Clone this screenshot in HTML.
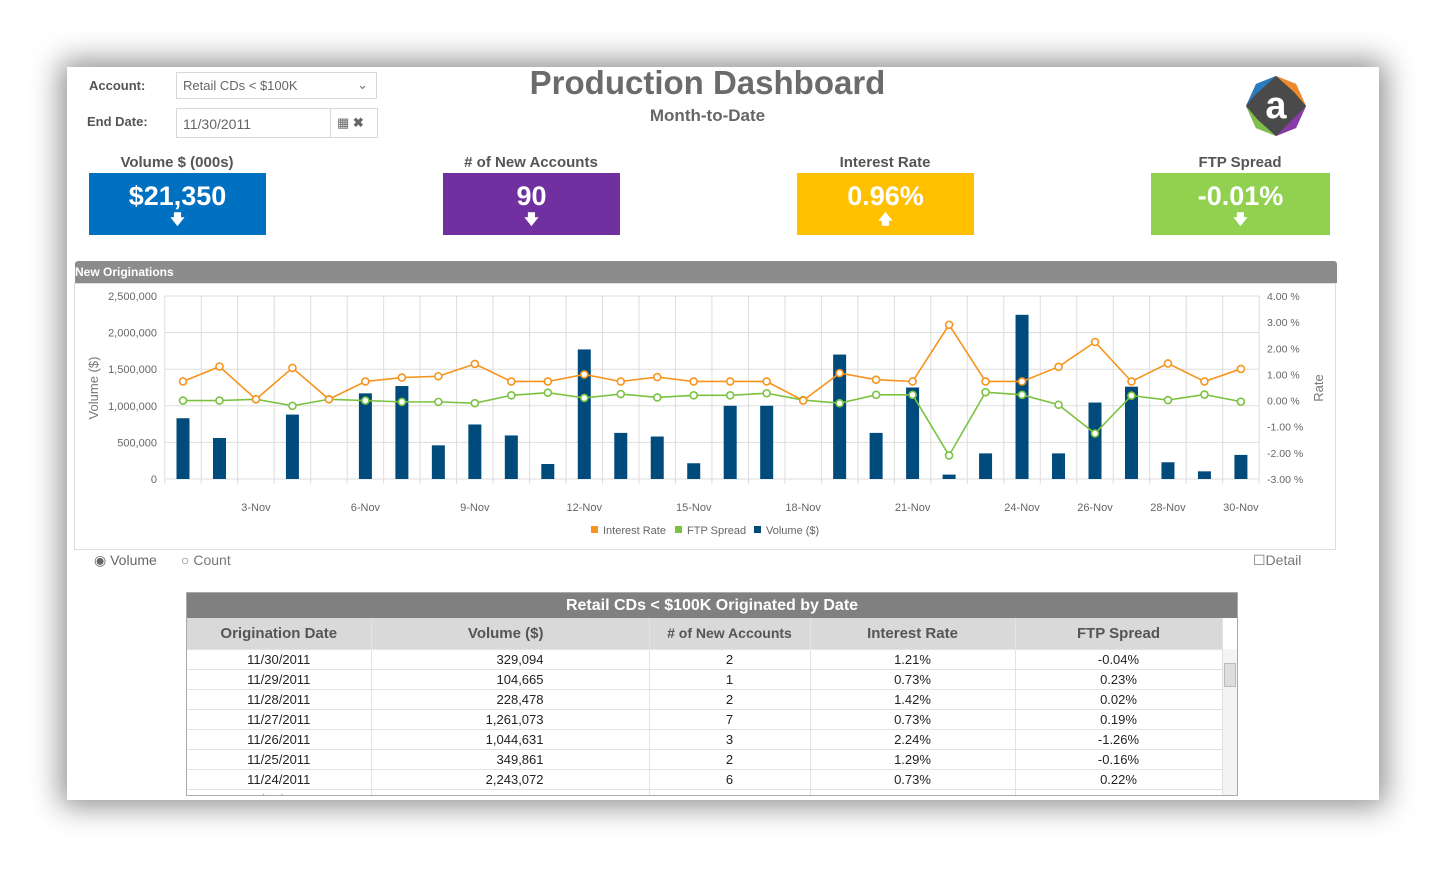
<!DOCTYPE html>
<html><head><meta charset="utf-8"><style>
body{margin:0;width:1454px;height:876px;background:#fff;position:relative;overflow:hidden;font-family:"Liberation Sans",sans-serif}
.abs{position:absolute}
#panel{left:67px;top:67px;width:1312px;height:733px;background:#fff;box-shadow:0 0 28px 6px rgba(0,0,0,0.45)}
.lbl{font-size:13px;font-weight:bold;color:#555}
.inp{border:1px solid #d8d8d8;background:#fff;font-size:13px;color:#666;box-sizing:border-box}
.kt{font-size:15px;font-weight:bold;color:#555;text-align:center;width:220px}
.kb{color:#fff;text-align:center;font-size:27px;font-weight:bold;box-sizing:border-box;padding-top:8px}
.kb span{display:block;font-size:14px;line-height:14px;margin-top:0}
table{border-collapse:collapse;font-size:13px;color:#222;table-layout:fixed}
td{border-bottom:1px solid #e3e3e3;border-right:1px solid #e3e3e3;height:19px;padding:0;overflow:hidden;white-space:nowrap}
</style></head><body>
<div id="panel" class="abs"></div>
<div class="abs lbl" style="left:89px;top:78px">Account:</div>
<div class="abs inp" style="left:176px;top:72px;width:201px;height:27px;padding:5px 6px">Retail CDs &lt; $100K<span style="position:absolute;right:8px;top:4px;color:#777">&#8964;</span></div>
<div class="abs lbl" style="left:87px;top:114px">End Date:</div>
<div class="abs inp" style="left:176px;top:108px;width:155px;height:30px;padding:7px 6px;font-size:14px">11/30/2011</div>
<div class="abs inp" style="left:330px;top:108px;width:48px;height:30px;padding:6px 6px;color:#666"><span>&#9638;</span> <b>&#10006;</b></div>
<div class="abs" style="left:470px;top:64px;width:475px;text-align:center;font-size:33px;font-weight:bold;color:#6b6b6b">Production Dashboard</div>
<div class="abs" style="left:470px;top:106px;width:475px;text-align:center;font-size:17px;font-weight:bold;color:#666">Month-to-Date</div>
<svg class="abs" style="left:1244px;top:74px" width="64" height="64">
<polygon points="32,2 52,10 62,32 52,54 32,62 12,54 2,32 12,10" fill="#4a4a4a"/>
<polygon points="32,2 12,10 2,32 10,22" fill="#2a7cc0"/><polygon points="32,2 52,10 62,32 50,18" fill="#ee8a2c"/>
<polygon points="2,32 12,54 32,62 14,46" fill="#7fc04a"/><polygon points="62,32 52,54 32,62 52,42" fill="#8a3aa8"/>
<text x="32" y="44" text-anchor="middle" font-size="38" font-weight="bold" fill="#fff" font-family="Liberation Sans">a</text></svg>
<div class="abs kt" style="left:67px;top:154px">Volume $ (000s)</div>
<div class="abs kb" style="left:89px;top:173px;width:177px;height:62px;background:#0070c0">$21,350<span>&#129095;</span></div>
<div class="abs kt" style="left:421px;top:154px"># of New Accounts</div>
<div class="abs kb" style="left:443px;top:173px;width:177px;height:62px;background:#7030a0">90<span>&#129095;</span></div>
<div class="abs kt" style="left:775px;top:154px">Interest Rate</div>
<div class="abs kb" style="left:797px;top:173px;width:177px;height:62px;background:#ffc000">0.96%<span>&#129093;</span></div>
<div class="abs kt" style="left:1130px;top:154px">FTP Spread</div>
<div class="abs kb" style="left:1151px;top:173px;width:179px;height:62px;background:#92d050">-0.01%<span>&#129095;</span></div>
<div class="abs" style="left:74px;top:283px;width:1262px;height:267px;border:1px solid #ddd;box-sizing:border-box"></div>
<div class="abs" style="left:75px;top:261px;width:1262px;height:22px;background:#8c8c8c;color:#fff;font-size:12px;font-weight:bold;line-height:22px;border-radius:3px 3px 0 0">New Originations</div>
<svg id="chart" class="abs" style="left:0;top:0" width="1454" height="560"></svg>
<div class="abs" style="left:94px;top:552px;font-size:14px;color:#666">&#9673; Volume</div>
<div class="abs" style="left:181px;top:552px;font-size:14px;color:#777">&#9675; Count</div>
<div class="abs" style="left:1253px;top:552px;font-size:14px;color:#777">&#9744;Detail</div>
<div class="abs" style="left:186px;top:592px;width:1052px;height:204px;border:1px solid #aaa;box-sizing:border-box;overflow:hidden">
<div style="height:25px;background:#808080;color:#fff;font-weight:bold;font-size:16px;text-align:center;line-height:26px">Retail CDs &lt; $100K Originated by Date</div>
<table style="width:1035px"><colgroup><col style="width:184px"><col style="width:278px"><col style="width:161px"><col style="width:205px"><col style="width:207px"></colgroup>
<tr style="background:#d9d9d9;color:#555;font-weight:bold;font-size:15px;height:31px">
<td style="text-align:center">Origination Date</td><td style="text-align:right;padding-right:105px">Volume ($)</td><td style="text-align:center;font-size:14px"># of New Accounts</td><td style="text-align:center">Interest Rate</td><td style="text-align:center">FTP Spread</td></tr>
<tbody id="tb"></tbody></table>
<div style="position:absolute;right:0;top:56px;width:14px;height:146px;background:#f4f4f4;border-left:1px solid #ddd"><div style="margin:14px 1px;height:22px;background:#ddd;border:1px solid #bbb"></div></div>
</div>
<script>
const days=[1,2,3,4,5,6,7,8,9,10,11,12,13,14,15,16,17,18,19,20,21,22,23,24,25,26,27,28,29,30];
const volume=[830000,560000,0,880000,0,1170000,1270000,460000,745000,595000,205000,1770000,630000,580000,215000,1000000,1000000,0,1700000,630000,1250000,60000,350000,2243072,349861,1044631,1261073,228478,104665,329094];
const interestRate=[0.73,1.3,0.05,1.25,0.05,0.73,0.88,0.93,1.4,0.73,0.73,1.0,0.73,0.9,0.73,0.73,0.73,0.0,1.05,0.8,0.73,2.9,0.73,0.73,1.29,2.24,0.73,1.42,0.73,1.21];
const ftpSpread=[0.0,0.0,0.05,-0.2,0.05,0.0,-0.05,-0.05,-0.1,0.2,0.3,0.1,0.25,0.12,0.2,0.2,0.28,0.02,-0.1,0.22,0.22,-2.1,0.32,0.22,-0.16,-1.26,0.19,0.02,0.23,-0.04];
const leftTicks=[0,500000,1000000,1500000,2000000,2500000];
const rightTicks=[-3,-2,-1,0,1,2,3,4];
const xLabelDays=[3,6,9,12,15,18,21,24,26,28,30];
const tableDates=["11/30/2011","11/29/2011","11/28/2011","11/27/2011","11/26/2011","11/25/2011","11/24/2011","11/23/2011"];
const tableVol=["329,094","104,665","228,478","1,261,073","1,044,631","349,861","2,243,072",""];
const tableAcc=["2","1","2","7","3","2","6",""];
const tableRate=["1.21%","0.73%","1.42%","0.73%","2.24%","1.29%","0.73%",""];
const tableFtp=["-0.04%","0.23%","0.02%","0.19%","-1.26%","-0.16%","0.22%",""];
const ns="http://www.w3.org/2000/svg",svg=document.getElementById('chart');
const X=d=>183+(d-1)*36.48, YL=v=>479-v/2500000*183, YR=v=>479-(v+3)/7*183;
function el(t,a,p){const e=document.createElementNS(ns,t);for(const k in a)e.setAttribute(k,a[k]);(p||svg).appendChild(e);return e;}
function tx(x,y,s,anc,sz,fill){const e=el('text',{x:x,y:y,'text-anchor':anc,'font-size':sz||11,fill:fill||'#666','font-family':'Liberation Sans, sans-serif'});e.textContent=s;return e;}
for(let i=0;i<=30;i++){const x=X(i+0.5);const g=el('line',{x1:x,x2:x,y1:296,y2:484,stroke:'#ddd'});}
leftTicks.forEach(v=>{const l=el('line',{x1:165,x2:1259,y1:YL(v),y2:YL(v),stroke:'#ddd'});
const t=tx(157,YL(v)+4,v.toLocaleString('en-US'),'end');});
rightTicks.forEach(v=>{const t=tx(1267,YR(v)+4,v.toFixed(2)+' %','start',10.5);});
xLabelDays.forEach(d=>{const t=tx(X(d),511,d+'-Nov','middle');});
let t=tx(0,0,'Volume ($)','middle',13,'#777');t.setAttribute('transform','translate(98,388) rotate(-90)');
t=tx(0,0,'Rate','middle',13,'#777');t.setAttribute('transform','translate(1323,388) rotate(-90)');
volume.forEach((v,i)=>{if(v<=0)return;const b=el('rect',{x:X(days[i])-6.5,y:YL(v),width:13,height:479-YL(v),fill:'#004b7c'});});
function line(arr,col,name){const p=el('polyline',{points:arr.map((v,i)=>X(days[i])+','+YR(v)).join(' '),fill:'none',stroke:col,'stroke-width':1.6});
arr.forEach((v,i)=>{const c=el('circle',{cx:X(days[i]),cy:YR(v),r:3.5,fill:'#fff',stroke:col,'stroke-width':1.6});});}
line(ftpSpread,'#7cc242','ftp-spread');line(interestRate,'#f7941d','interest-rate');
[['#f7941d','Interest Rate',591],['#7cc242','FTP Spread',675],['#004b7c','Volume ($)',754]].forEach(([c,s,x])=>{const r=el('rect',{x:x,y:526,width:7,height:7,fill:c});const q=tx(x+12,534,s,'start',11);});
const tb=document.getElementById('tb');
tableDates.forEach((d,i)=>{const tr=document.createElement('tr');
tr.innerHTML=`<td style="text-align:center">${d}</td><td style="text-align:right;padding-right:105px">${tableVol[i]}</td><td style="text-align:center">${tableAcc[i]}</td><td style="text-align:center">${tableRate[i]}</td><td style="text-align:center">${tableFtp[i]}</td>`;tb.appendChild(tr);});
</script>
</body></html>
